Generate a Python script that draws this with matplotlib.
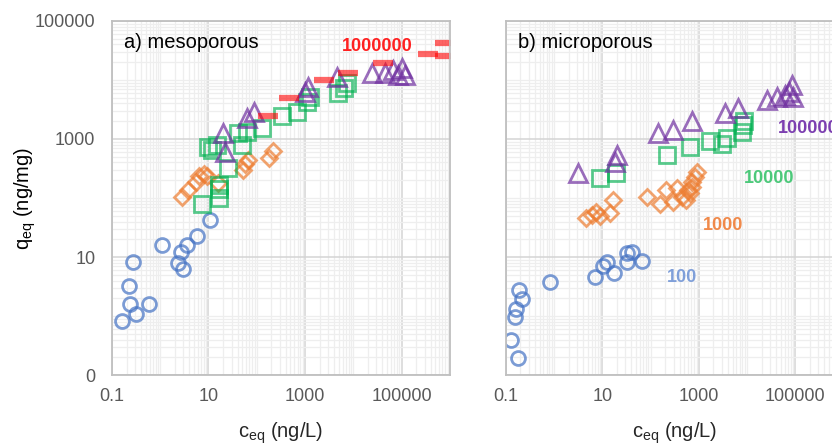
import matplotlib.pyplot as plt
from matplotlib.ticker import FixedLocator, FixedFormatter, LogLocator, NullFormatter

plt.rcParams['font.family'] = ['Liberation Sans', 'DejaVu Sans']
plt.rcParams['mathtext.fontset'] = 'custom'
plt.rcParams['mathtext.rm'] = 'Liberation Sans'
plt.rcParams['mathtext.it'] = 'Liberation Sans'
plt.rcParams['mathtext.default'] = 'regular'

# ---- a) mesoporous ----
meso_c100 = [0.159, 0.314, 0.236, 0.583, 0.225, 0.272, 1.08, 2.3, 2.95, 2.7, 3.6, 5.75, 10.7]
meso_q100 = [0.82, 1.08, 1.6, 1.6, 3.2, 8.2, 16, 7.9, 6.3, 12.2, 16, 22.7, 42]

meso_c1000 = [2.81, 3.74, 5.5, 6.3, 8.0, 9.3, 15.7, 51.5, 56.7, 65, 178, 215]
meso_q1000 = [104, 137, 187, 236, 255, 236, 180, 298, 377, 440, 476, 626]

meso_c10000 = [7.3, 16.4, 16.4, 16.4, 25.2, 9.7, 11.8, 14.9, 49, 40.6, 62, 128, 331, 676,
               1090, 1256, 4780, 7330, 6300]
meso_q10000 = [79, 100, 142, 166, 322, 731, 651, 791, 791, 1264, 1315, 1535, 2455, 2870,
               4240, 5150, 6020, 8900, 7300]

meso_c100000 = [21.9, 19.9, 62, 87, 990, 1143, 4550, 24150, 44900, 65750, 100900, 83400, 116400]
meso_q100000 = [603, 1264, 2270, 2870, 6260, 7600, 11240, 13150, 13150, 14760, 15960, 12160, 12160]

meso_c1000000 = [170, 462, 2450, 7690, 40800, 348000, 783000, 783000]
meso_q1000000 = [2455, 4950, 10000, 13150, 19400, 27600, 42400, 25500]

# ---- b) microporous ----
micro_c100 = [0.186, 0.214, 0.161, 0.154, 0.127, 0.177, 0.815, 6.96, 10.2, 12.3, 17.2, 32, 32, 40.6, 65.5]
micro_q100 = [2.76, 1.94, 1.31, 0.96, 0.39, 0.194, 3.77, 4.58, 7.0, 8.2, 5.36, 8.2, 11.7, 12.2, 8.55]

micro_c1000 = [4.53, 6.03, 7.3, 8.83, 14.2, 16.4, 83, 154, 205, 287, 347, 441, 533, 646,
               710, 819, 900, 710, 586]
micro_q1000 = [45.8, 51.5, 58, 49.6, 55.7, 92.5, 104, 79, 137, 85.5, 148, 104, 92.5, 122,
               187, 227, 276, 154, 137]

micro_c10000 = [8.83, 18.9, 215, 646, 1675, 2970, 3770, 7690, 8070, 8460]
micro_q10000 = [218, 265, 535, 731, 925, 822, 1040, 1315, 1727, 2020]

micro_c100000 = [3.1, 18.1, 19.9, 140, 287, 710, 3420, 6350, 25350, 40800, 59700, 83400, 87500, 72300]
micro_q100000 = [265, 407, 535, 1264, 1422, 2020, 2760, 3350, 4580, 5150, 5570, 8220, 5150, 6260]

blue = (0.267, 0.447, 0.769, 0.7)
orange = (0.929, 0.490, 0.192, 0.7)
green = (0.0, 0.690, 0.314, 0.65)
purple = (0.439, 0.188, 0.627, 0.7)
red = (1.0, 0.0, 0.0, 0.6)

tick_pos = [0.1, 10, 1000, 100000]
tick_lab = ['0.1', '10', '1000', '100000']
ytick_lab = ['0', '10', '1000', '100000']

fig = plt.figure(figsize=(8.32, 4.45), dpi=100)
ax1 = fig.add_axes([0.1346, 0.157, 0.406, 0.796])
ax2 = fig.add_axes([0.608, 0.157, 0.406, 0.796])

for ax in (ax1, ax2):
    ax.set_xscale('log')
    ax.set_yscale('log')
    ax.set_xlim(0.1, 1e6)
    ax.set_ylim(0.1, 1e5)
    ax.xaxis.set_major_locator(FixedLocator(tick_pos))
    ax.xaxis.set_major_formatter(FixedFormatter(tick_lab))
    ax.yaxis.set_major_locator(FixedLocator(tick_pos))
    ax.yaxis.set_major_formatter(FixedFormatter(ytick_lab))
    ax.xaxis.set_minor_locator(LogLocator(base=10, subs=range(1, 10), numticks=20))
    ax.yaxis.set_minor_locator(LogLocator(base=10, subs=range(1, 10), numticks=20))
    ax.xaxis.set_minor_formatter(NullFormatter())
    ax.yaxis.set_minor_formatter(NullFormatter())
    ax.grid(True, which='minor', color='#eeeeee', lw=0.9)
    ax.grid(True, which='major', color='#d4d4d4', lw=1.1)
    ax.set_axisbelow(True)
    ax.tick_params(which='both', length=0, labelsize=13, colors='#595959')
    ax.tick_params(axis='x', pad=9)
    ax.tick_params(axis='y', pad=12)
    for s in ax.spines.values():
        s.set_color('#bfbfbf')
        s.set_linewidth(1.3)
    ax.set_xlabel('c$_{eq}$ (ng/L)', fontsize=14.5, color='#262626', va='top')
    ax.xaxis.set_label_coords(0.5, -0.128)

ax1.set_ylabel('q$_{eq}$ (ng/mg)', fontsize=14.5, color='black')
ax1.yaxis.set_label_coords(-0.218, 0.5)
ax2.tick_params(axis='y', labelleft=False)

def draw(ax, c100, q100, c1k, q1k, c10k, q10k, c100k, q100k):
    ax.plot(c100, q100, 'o', ls='none', ms=10, mfc='none', mec=blue, mew=2.0)
    ax.plot(c1k, q1k, 'D', ls='none', ms=8.5, mfc='none', mec=orange, mew=2.0)
    ax.plot(c10k, q10k, 's', ls='none', ms=11, mfc='none', mec=green, mew=2.0)
    ax.plot(c100k, q100k, '^', ls='none', ms=12.5, mfc='none', mec=purple, mew=2.0)

draw(ax1, meso_c100, meso_q100, meso_c1000, meso_q1000, meso_c10000, meso_q10000,
     meso_c100000, meso_q100000)
ax1.plot(meso_c1000000, meso_q1000000, '_', ls='none', ms=15, mec=red, mew=4.5)

draw(ax2, micro_c100, micro_q100, micro_c1000, micro_q1000, micro_c10000, micro_q10000,
     micro_c100000, micro_q100000)

ax1.text(0.035, 0.94, 'a) mesoporous', transform=ax1.transAxes, fontsize=14.5,
         va='center', ha='left', color='black')
ax2.text(0.035, 0.94, 'b) microporous', transform=ax2.transAxes, fontsize=14.5,
         va='center', ha='left', color='black')

ax1.text(32100, 36200, '1000000', fontsize=13, fontweight='bold', color='#ff2020',
         ha='center', va='center')
ax2.text(42800, 1535, '100000', fontsize=13, fontweight='bold', color='#7c3fb0',
         ha='left', va='center')
ax2.text(29200, 218, '10000', fontsize=13, fontweight='bold', color='#4cc97a',
         ha='center', va='center')
ax2.text(3110, 34.8, '1000', fontsize=13, fontweight='bold', color='#f0894a',
         ha='center', va='center')
ax2.text(441, 4.58, '100', fontsize=13, fontweight='bold', color='#7f9fd9',
         ha='center', va='center')

fig.savefig('out.png', dpi=100)
